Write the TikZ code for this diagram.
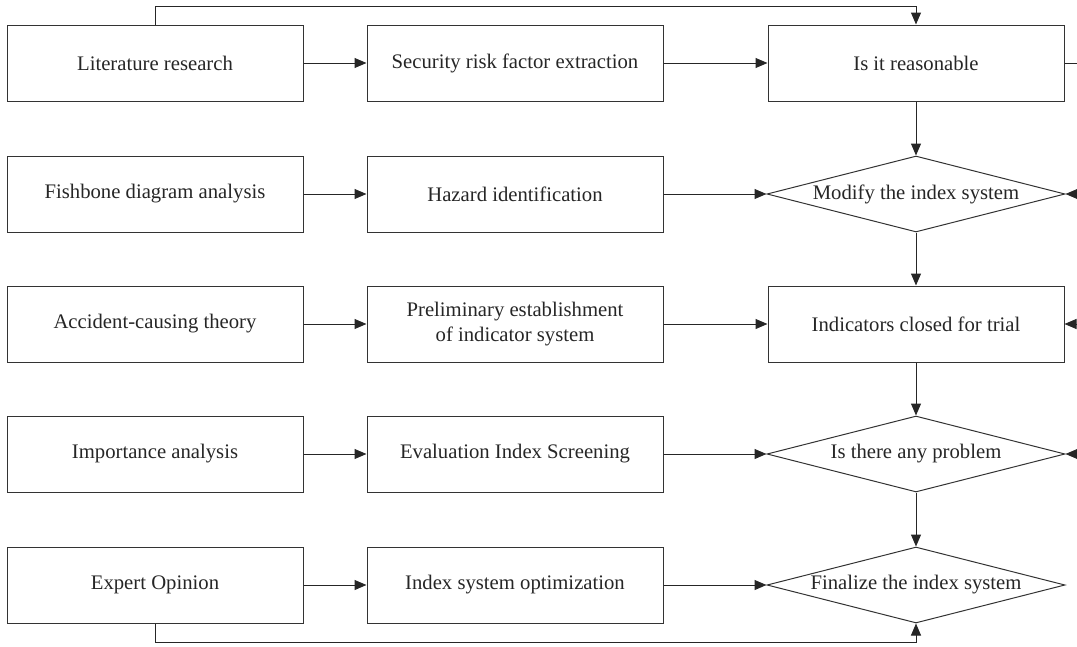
\documentclass[tikz,border=0pt]{standalone}
\usepackage{fontspec}
\setmainfont{Liberation Serif}
\usetikzlibrary{shapes.geometric,arrows.meta}
\begin{document}
\begin{tikzpicture}[x=1pt,y=-1pt,
  line width=1pt,
  every node/.style={font=\fontsize{20.7}{25}\selectfont, text=black!85},
  boxnode/.style={draw=black!80, rectangle, minimum width=296pt, minimum height=76pt, inner sep=0pt, align=center},
  dianode/.style={draw=black!80, diamond, minimum width=298pt, minimum height=76pt, inner sep=0pt},
  conn/.style={draw=black!85, -{Triangle[length=12pt,width=10pt]}},
  plainline/.style={draw=black!85}]
\useasboundingbox (0,0) rectangle (1077,646);
% left column
\node[boxnode] (lit) at (155,63) {Literature research};
\node[boxnode] (fish) at (155,194) {Fishbone diagram analysis};
\node[boxnode] (acc) at (155,324) {Accident-causing theory};
\node[boxnode] (imp) at (155,454) {Importance analysis};
\node[boxnode] (exp) at (155,585) {Expert Opinion};
% middle column
\node[boxnode] (sec) at (515,63) {Security risk factor extraction};
\node[boxnode] (haz) at (515,194) {Hazard identification};
\node[boxnode] (pre) at (515,324) {Preliminary establishment\\of indicator system};
\node[boxnode] (eva) at (515,454) {Evaluation Index Screening};
\node[boxnode] (opt) at (515,585) {Index system optimization};
% right column
\node[boxnode] (rea) at (916,63) {Is it reasonable};
\node[dianode, label={center:Modify the index system}] (mod) at (916,194) {};
\node[boxnode] (ind) at (916,324) {Indicators closed for trial};
\node[dianode, label={center:Is there any problem}] (prob) at (916,454) {};
\node[dianode, label={center:Finalize the index system}] (fin) at (916,585) {};
% horizontal arrows
\draw[conn] (lit) -- (sec);
\draw[conn] (sec) -- (rea);
\draw[conn] (fish) -- (haz);
\draw[conn] (haz) -- (mod.west);
\draw[conn] (acc) -- (pre);
\draw[conn] (pre) -- (ind);
\draw[conn] (imp) -- (eva);
\draw[conn] (eva) -- (prob.west);
\draw[conn] (exp) -- (opt);
\draw[conn] (opt) -- (fin.west);
% vertical arrows
\draw[conn] (rea) -- (mod.north);
\draw[conn] (mod.south) -- (ind);
\draw[conn] (ind) -- (prob.north);
\draw[conn] (prob.south) -- (fin.north);
% loops
\draw[conn] (lit.north) -- ++(0,-18) -| (rea.north);
\draw[conn] (exp.south) -- ++(0,19) -| (fin.south);
% right side stubs (continue beyond the picture)
\coordinate (e1) at (1077,63);
\coordinate (e2) at (1077,194);
\coordinate (e3) at (1077,324);
\coordinate (e4) at (1077,454);
\draw[plainline] (rea.east) -- (e1);
\draw[conn] (e2) -- (mod.east);
\draw[conn] (e3) -- (ind.east);
\draw[conn] (e4) -- (prob.east);
\end{tikzpicture}
\end{document}
